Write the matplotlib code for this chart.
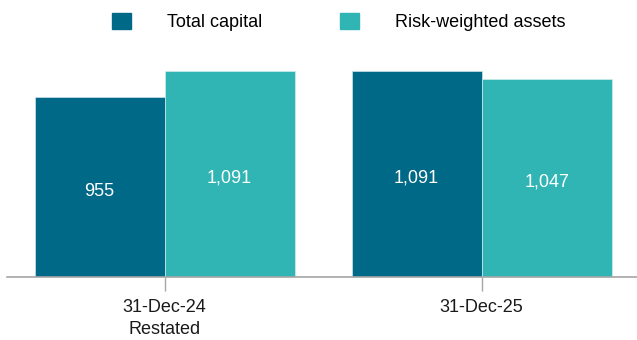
import matplotlib.pyplot as plt
import numpy as np

plt.rcParams['font.family'] = ['Liberation Sans', 'DejaVu Sans']

# data
dates = ["31-Dec-24\nRestated", "31-Dec-25"]
series = ["Total capital", "Risk-weighted assets"]
total_capital = [955, 1091]
rwa = [1091, 1047]
colors = ["#006987", "#30b4b4"]

x = np.arange(len(dates))
w = 0.41

fig = plt.figure(figsize=(6.37, 3.4), dpi=100)
ax = fig.add_axes([7 / 637, 1 - 277 / 340, 630 / 637, 206 / 340])

b1 = ax.bar(x - w / 2, total_capital, w, color=colors[0], edgecolor="#cfe3ea", linewidth=0.5)
b2 = ax.bar(x + w / 2, rwa, w, color=colors[1], edgecolor="#cfeeee", linewidth=0.5)

for bars in (b1, b2):
    ax.bar_label(bars, labels=[f"{v:,}" for v in bars.datavalues], label_type="center",
                 color="white", fontsize=13, padding=-3)

ax.set_xlim(-0.497, 1.49)
ax.set_ylim(0, 1091)
ax.set_xticks(x)
ax.set_xticklabels(dates, fontsize=13, color="#1a1a1a", linespacing=1.35)
ax.tick_params(axis="x", length=10, width=1, color="#a6a6a6", pad=6)
ax.set_yticks([])
for s in ["top", "right", "left"]:
    ax.spines[s].set_visible(False)
ax.spines["bottom"].set_color("#a6a6a6")
ax.spines["bottom"].set_linewidth(1.2)

# legend
handles = [plt.Rectangle((0, 0), 1, 1, color=c) for c in colors]
fig.legend(handles, series, loc="center", bbox_to_anchor=(339 / 637, 1 - 22 / 340),
           ncol=2, frameon=False, fontsize=13, handlelength=1.05, handleheight=1.05,
           handletextpad=2.0, columnspacing=4.3)

fig.savefig("out.png", dpi=100)
